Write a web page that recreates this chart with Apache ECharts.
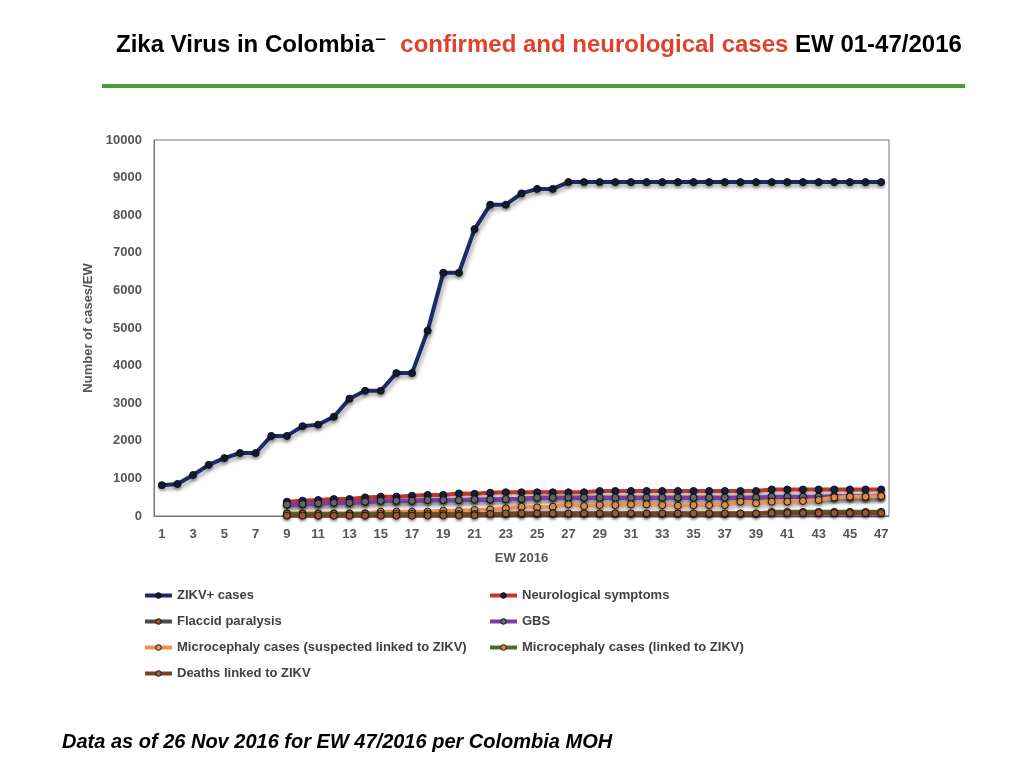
<!DOCTYPE html>
<html>
<head>
<meta charset="utf-8">
<title>Zika Virus in Colombia</title>
<script src="https://cdn.jsdelivr.net/npm/echarts@6/dist/echarts.min.js"></script>
<style>
  html, body { margin: 0; padding: 0; background: #fff; }
  #chart { width: 1024px; height: 768px; }
</style>
</head>
<body>
<div id="chart"></div>
<script>
// epidemiological weeks 1..47
const weeks = ["1","2","3","4","5","6","7","8","9","10","11","12","13","14","15","16",
  "17","18","19","20","21","22","23","24","25","26","27","28","29","30","31","32",
  "33","34","35","36","37","38","39","40","41","42","43","44","45","46","47"];

const zikvCases = [820, 850, 1090, 1360, 1540, 1675, 1675, 2130, 2130, 2390, 2430, 2640,
  3120, 3330, 3330, 3800, 3800, 4930, 6470, 6470, 7630, 8280, 8280, 8580, 8700, 8700,
  8880, 8880, 8880, 8880, 8880, 8880, 8880, 8880, 8880, 8880, 8880, 8880, 8880, 8880,
  8880, 8880, 8880, 8880, 8880, 8880, 8880];

// the neurological series start at EW 9
const neuroSymptoms = [null, null, null, null, null, null, null, null,
  381, 408, 425, 450, 450, 495, 515, 515, 540, 560, 560, 600, 590, 620, 630, 630, 630,
  630, 630, 630, 665, 665, 665, 665, 665, 665, 665, 665, 665, 665, 665, 705, 705, 705,
  705, 705, 705, 705, 705];

const flaccidParalysis = [null, null, null, null, null, null, null, null,
  300, 315, 330, 350, 350, 375, 400, 400, 400, 420, 420, 420, 435, 435, 445, 450, 485,
  485, 485, 485, 485, 485, 485, 485, 485, 485, 485, 485, 485, 485, 485, 508, 508, 508,
  508, 520, 520, 520, 535];

const gbs = [null, null, null, null, null, null, null, null,
  305, 320, 335, 355, 355, 380, 405, 405, 405, 425, 425, 425, 440, 440, 450, 455, 488,
  488, 488, 488, 488, 488, 488, 488, 488, 488, 488, 488, 488, 488, 488, 512, 512, 512,
  512, 525, 525, 525, 540];

const microSuspected = [null, null, null, null, null, null, null, null,
  70, 70, 70, 70, 70, 75, 115, 115, 115, 115, 140, 140, 160, 175, 200, 245, 230,
  245, 310, 265, 290, 290, 310, 310, 290, 275, 290, 290, 290, 380, 340, 380, 380, 400,
  425, 495, 515, 515, 530];

const microLinked = [null, null, null, null, null, null, null, null,
  55, 55, 55, 55, 55, 55, 55, 55, 55, 55, 55, 55, 55, 55, 55, 55, 60,
  60, 60, 60, 60, 60, 60, 60, 60, 60, 60, 60, 60, 60, 60, 110, 110, 110,
  110, 110, 110, 110, 110];

const deathsLinked = [null, null, null, null, null, null, null, null,
  10, 10, 10, 10, 10, 10, 10, 10, 10, 15, 15, 15, 20, 55, 65, 70, 70,
  70, 70, 70, 70, 70, 70, 70, 70, 70, 70, 70, 70, 70, 70, 80, 80, 80,
  80, 80, 80, 80, 80];

const seriesNames = [
  "ZIKV+ cases",
  "Neurological symptoms",
  "Flaccid paralysis",
  "GBS",
  "Microcephaly cases (suspected linked to ZIKV)",
  "Microcephaly cases (linked to ZIKV)",
  "Deaths linked to ZIKV"
];
const seriesData = [zikvCases, neuroSymptoms, flaccidParalysis, gbs, microSuspected, microLinked, deathsLinked];
const lineColors = ["#1c2a66", "#c0392b", "#4a4a4a", "#7a3fa3", "#ea9154", "#4b6b2c", "#7a4424"];
const markerColors = ["#141a38", "#17204a", "#a8482c", "#6b6b70", "#e8944c", "#d88c44", "#a0603a"];

const chart = echarts.init(document.getElementById("chart"));

const series = seriesNames.map((name, i) => ({
  name: name,
  type: "line",
  data: seriesData[i],
  symbol: "circle",
  symbolSize: 7,
  connectNulls: false,
  lineStyle: {
    color: lineColors[i],
    width: 4,
    shadowColor: "rgba(0,0,0,0.35)",
    shadowBlur: 4,
    shadowOffsetX: 2,
    shadowOffsetY: 3
  },
  itemStyle: {
    color: markerColors[i],
    borderColor: "#111",
    borderWidth: 1,
    shadowColor: "rgba(0,0,0,0.3)",
    shadowBlur: 3,
    shadowOffsetY: 2
  },
  emphasis: { disabled: true },
  z: 2 + i
}));

const legendText = { color: "#404040", fontSize: 13, fontWeight: "bold", fontFamily: "Liberation Sans" };
const legendCommon = {
  orient: "vertical",
  top: 584,
  itemWidth: 27,
  itemHeight: 7,
  itemGap: 13,
  selectedMode: false,
  lineStyle: { width: 4, shadowBlur: 0, shadowOffsetX: 0, shadowOffsetY: 0 },
  itemStyle: { borderWidth: 1, shadowBlur: 0, shadowOffsetY: 0 },
  textStyle: legendText
};

chart.setOption({
  animation: false,
  title: {
    text: "{b|Zika Virus in Colombia}{d|⁻}{b|  }{r|confirmed and neurological cases}{b| EW 01-47/2016}",
    left: 111,
    top: 28,
    textStyle: {
      rich: {
        b: { color: "#000", fontSize: 24, fontWeight: "bold", fontFamily: "Liberation Sans" },
        d: { color: "#000", fontSize: 24, fontWeight: "bold", fontFamily: "DejaVu Sans" },
        r: { color: "#e0412c", fontSize: 24, fontWeight: "bold", fontFamily: "Liberation Sans" }
      }
    }
  },
  graphic: [
    {
      type: "rect",
      shape: { x: 102, y: 84, width: 863, height: 4 },
      style: { fill: "#4c9a3a" }
    },
    {
      type: "text",
      left: 62,
      top: 732,
      style: {
        text: "Data as of 26 Nov 2016 for EW 47/2016 per Colombia MOH",
        fill: "#000",
        font: "italic bold 20px 'Liberation Sans'"
      }
    }
  ],
  legend: [
    Object.assign({}, legendCommon, {
      data: [seriesNames[0], seriesNames[2], seriesNames[4], seriesNames[6]],
      left: 138
    }),
    Object.assign({}, legendCommon, {
      data: [seriesNames[1], seriesNames[3], seriesNames[5]],
      left: 483
    })
  ],
  grid: {
    left: 154,
    right: 135,
    top: 140,
    bottom: 252,
    show: true,
    borderColor: "#777",
    borderWidth: 1,
    containLabel: false
  },
  xAxis: {
    type: "category",
    data: weeks,
    boundaryGap: true,
    name: "EW 2016",
    nameLocation: "middle",
    nameGap: 36,
    nameTextStyle: { color: "#555", fontSize: 13, fontWeight: "bold", fontFamily: "Liberation Sans" },
    axisLine: { lineStyle: { color: "#777" } },
    axisTick: { show: false },
    axisLabel: {
      interval: 1,
      margin: 12,
      color: "#555",
      fontSize: 13,
      fontWeight: "bold",
      fontFamily: "Liberation Sans"
    }
  },
  yAxis: {
    type: "value",
    min: 0,
    max: 10000,
    interval: 1000,
    name: "Number of cases/EW",
    nameLocation: "middle",
    nameGap: 52,
    nameTextStyle: { color: "#555", fontSize: 13, fontWeight: "bold", fontFamily: "Liberation Sans" },
    axisLine: { show: true, lineStyle: { color: "#777" } },
    axisTick: { show: false },
    splitLine: { show: false },
    axisLabel: {
      margin: 12,
      color: "#555",
      fontSize: 13,
      fontWeight: "bold",
      fontFamily: "Liberation Sans",
      formatter: (v) => String(v)
    }
  },
  series: series
});
</script>
</body>
</html>
